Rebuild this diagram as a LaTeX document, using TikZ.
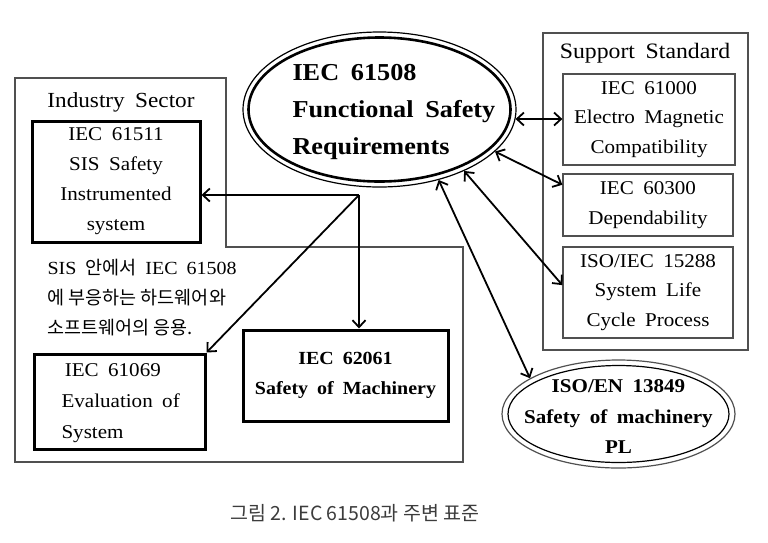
\documentclass[tikz,border=0pt]{standalone}
\usepackage{fontspec}
\setmainfont{Liberation Serif}[WordSpace=1.8,FakeStretch=1.08]
\newfontfamily\kr{Noto Sans CJK KR}
\usetikzlibrary{arrows.meta,shapes.geometric,calc}
\definecolor{thin}{RGB}{80,80,80}
\definecolor{capgray}{RGB}{60,60,60}
\begin{document}
\begin{tikzpicture}[x=1pt,y=-1pt,
  arr/.style={line width=1.8pt,{Straight Barb[length=7pt,width=13pt]}-{Straight Barb[length=7pt,width=13pt]}},
  onearr/.style={line width=1.8pt,-{Straight Barb[length=7pt,width=13pt]}},
  thickbox/.style={draw,line width=3pt,rectangle,inner sep=0pt,align=center,font=\fontsize{19.5}{30}\selectfont},
  thinbox/.style={draw=thin,line width=1.3pt,rectangle,inner sep=0pt,align=center,font=\fontsize{19.5}{29.5}\selectfont},
  frame/.style={draw=thin,line width=1.1pt}]
\useasboundingbox (0,0) rectangle (768,542);
\fill[white] (0,0) rectangle (768,542);
% frames
\draw[frame] (15,78) -- (226,78) -- (226,247) -- (463,247) -- (463,462) -- (15,462) -- cycle;
\draw[frame] (543,33) rectangle (748,350);
\node[font=\fontsize{21.5}{24}\selectfont] (indtitle) at (121,102) {Industry Sector};
\node[font=\fontsize{22}{24}\selectfont] (suptitle) at (645,53) {Support Standard};
% left boxes
\node[thickbox,minimum width=168pt,minimum height=121pt] (s61511) at (116,181.5) {IEC 61511\\SIS Safety\\Instrumented\\system};
\node[thickbox,minimum width=171pt,minimum height=95pt] (s61069) at (119.5,401.5) {};
\node[anchor=west,align=left,font=\fontsize{19.5}{31}\selectfont] (t61069) at (58,403) {\,IEC 61069\\Evaluation of\\System};
\node[thickbox,minimum width=205pt,minimum height=91pt,font=\bfseries\fontsize{18.5}{30}\selectfont] (s62061) at (345.5,375.5) {IEC 62061\\Safety of Machinery};
\node[anchor=west,align=left,font=\fontsize{18.5}{30}\selectfont] (kortext) at (44,298) {SIS {\kr 안에서} IEC 61508\\{\kr 에 부응하는 하드웨어와}\\{\kr 소프트웨어의 응용.}};
% right boxes
\node[thinbox,minimum width=172pt,minimum height=91pt] (s61000) at (649,119.5) {IEC 61000\\Electro Magnetic\\Compatibility};
\node[thinbox,minimum width=170pt,minimum height=62pt] (s60300) at (648,205) {IEC 60300\\Dependability};
\node[thinbox,minimum width=170pt,minimum height=91pt] (s15288) at (648,292.5) {ISO/IEC 15288\\System Life\\Cycle Process};
% main ellipse
\node[ellipse,draw,line width=1.2pt,minimum width=273pt,minimum height=155pt,inner sep=0pt] (main) at (379.5,109.5) {};
\draw[line width=2.6pt] (main.center) ellipse [x radius=131pt,y radius=72pt];
\node[anchor=west,align=left,font=\bfseries\fontsize{24.3}{37}\selectfont] (maintext) at (289,112) {IEC 61508\\Functional Safety\\Requirements};
% ISO 13849 ellipse
\node[ellipse,draw=thin,line width=1.2pt,minimum width=233pt,minimum height=108pt,inner sep=0pt] (iso) at (618.5,414) {};
\draw[thin,line width=1.2pt] (iso.center) ellipse [x radius=110.5pt,y radius=48.5pt];
\node[align=center,font=\bfseries\fontsize{19.5}{30.5}\selectfont] (isotext) at (618.5,417) {ISO/EN 13849\\Safety of machinery\\PL};
% connectors
\coordinate (J) at (359,195);
\draw[onearr] (J) -- (J -| s61511.east);
\draw[onearr] (J) -- (J |- s62061.north);
\draw[onearr] (J) -- (s61069.north east);
\draw[arr] (main.-4) -- (main.-4 -| s61000.west);
\draw[arr] (main.-20) -- ($(s60300.north west)!0.18!(s60300.south west)$);
\draw[arr] (main.-36) -- ($(s15288.north west)!0.42!(s15288.south west)$);
\draw[arr] (main.-50) -- (iso.158);
% caption
\node[font=\kr\fontsize{19.5}{22}\selectfont,text=capgray] (caption) at (355,513) {그림 2. IEC 61508과 주변 표준};
\end{tikzpicture}
\end{document}
